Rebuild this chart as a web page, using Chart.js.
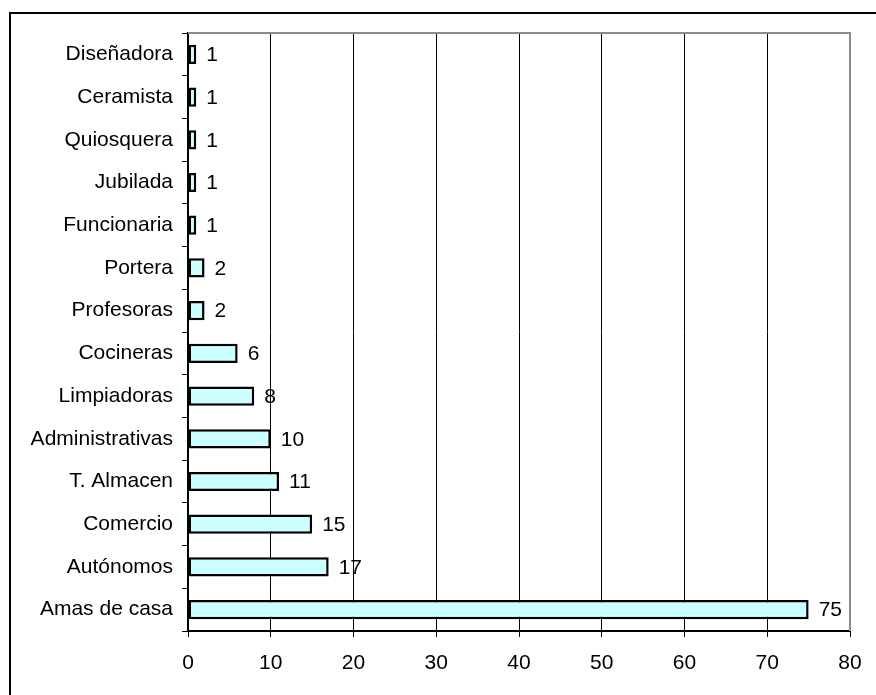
<!DOCTYPE html>
<html>
<head>
<meta charset="utf-8">
<script src="https://cdn.jsdelivr.net/npm/chart.js@4"></script>
<style>
  body { margin: 0; background: #fff; }
  #wrap { position: relative; width: 876px; height: 695px; }
  #frame { position: absolute; left: 9px; top: 12px; width: 900px; height: 700px;
           border-top: 2px solid #000; border-left: 2px solid #000; box-sizing: border-box; }
  canvas { position: absolute; left: 0; top: 0; }
</style>
</head>
<body>
<div id="wrap">
  <div id="frame"></div>
  <canvas id="chart" width="876" height="695"></canvas>
</div>
<script>
// occupations, top to bottom as in the picture
var categories = ["Diseñadora", "Ceramista", "Quiosquera", "Jubilada", "Funcionaria", "Portera",
    "Profesoras", "Cocineras", "Limpiadoras", "Administrativas", "T. Almacen", "Comercio",
    "Autónomos", "Amas de casa"];
var counts = [1, 1, 1, 1, 1, 2, 2, 6, 8, 10, 11, 15, 17, 75];
var xTicks = [0, 10, 20, 30, 40, 50, 60, 70, 80];

var font = { family: "Arial, 'Liberation Sans', sans-serif", size: 21 };

// value next to each bar
var valueLabels = {
    id: 'valueLabels',
    afterDatasetsDraw: function(chart) {
        var ctx = chart.ctx;
        var meta = chart.getDatasetMeta(0);
        ctx.save();
        ctx.fillStyle = '#000';
        ctx.font = font.size + 'px ' + font.family;
        ctx.textBaseline = 'middle';
        ctx.textAlign = 'left';
        meta.data.forEach(function(bar, i) {
            ctx.fillText(counts[i], bar.x + 10, bar.y + 1);
        });
        ctx.restore();
    }
};

// grey top/right edge of plot area
var plotEdge = {
    id: 'plotEdge',
    beforeDatasetsDraw: function(chart) {
        var a = chart.chartArea, ctx = chart.ctx;
        ctx.save();
        ctx.strokeStyle = '#8c8c8c';
        ctx.lineWidth = 2;
        ctx.beginPath();
        ctx.moveTo(a.left, a.top);
        ctx.lineTo(a.right, a.top);
        ctx.lineTo(a.right, a.bottom);
        ctx.stroke();
        ctx.restore();
    }
};

var ctx = document.getElementById("chart").getContext('2d');
new Chart(ctx, {
    type: 'bar',
    data: {
        labels: categories,
        datasets: [{
            data: counts,
            backgroundColor: '#CCFFFF',
            borderColor: '#000',
            borderWidth: 2.5,
            borderSkipped: false,
            barPercentage: 0.45,
            categoryPercentage: 1
        }]
    },
    options: {
        indexAxis: 'y',
        responsive: false,
        animation: false,
        layout: { padding: { top: 33, right: 26, left: 0, bottom: 0 } },
        plugins: { legend: { display: false }, tooltip: { enabled: false } },
        scales: {
            x: {
                min: 0, max: 80,
                afterBuildTicks: function(axis) { axis.ticks = xTicks.map(function(v) { return { value: v }; }); },
                afterFit: function(axis) { axis.height = 64; },
                grid: {
                    color: function(c) { return c.tick && c.tick.value === 80 ? 'rgba(0,0,0,0)' : '#000'; },
                    lineWidth: 1,
                    tickLength: 6,
                    tickColor: '#000'
                },
                border: { color: '#000', width: 2 },
                ticks: { color: '#000', font: font, padding: 14, maxRotation: 0 }
            },
            y: {
                afterFit: function(axis) { axis.width = 188; },
                grid: { drawOnChartArea: false, offset: true, tickLength: 6, color: '#000', lineWidth: 1 },
                border: { color: '#000', width: 2 },
                ticks: { color: '#000', font: font, padding: 9, autoSkip: false }
            }
        }
    },
    plugins: [plotEdge, valueLabels]
});
</script>
</body>
</html>
